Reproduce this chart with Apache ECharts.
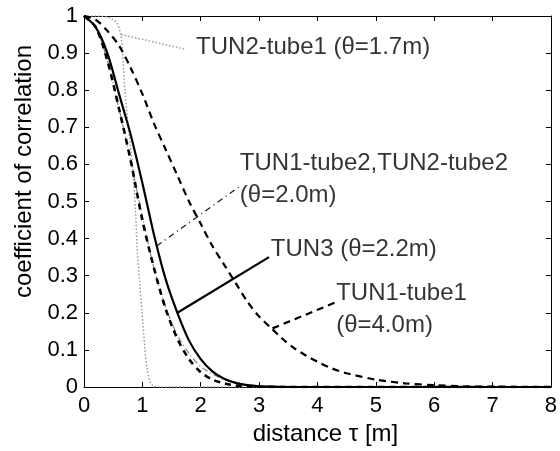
<!DOCTYPE html>
<html><head><meta charset="utf-8">
<script src="https://cdn.jsdelivr.net/npm/echarts/dist/echarts.min.js"></script>
<style>html,body{margin:0;padding:0;background:#fff}#c{width:560px;height:451px}</style>
</head><body><div id="c"></div>
<script>
// ---- data ----
const xTickLabels = ['0','1','2','3','4','5','6','7','8'];
const yTickLabels = ['0','0.1','0.2','0.3','0.4','0.5','0.6','0.7','0.8','0.9','1'];

// TUN2-tube1 (theta = 1.7 m), gray dotted
const tun2t1Tau = [0,0.2,0.4,0.5,0.57,0.63,0.66,0.70,0.76,0.83,0.88,0.91,0.95,0.99,1.04,1.08,1.12,1.18,1.3,2,8];
const tun2t1Rho = [1,1,0.997,0.99,0.98,0.95,0.90,0.80,0.70,0.60,0.48,0.38,0.29,0.21,0.11,0.05,0.02,0.003,0,0,0];

// TUN2-tube2 (theta = 2.0 m), gray dash-dot
const tun2t2Tau = [0,0.2,0.4,0.6,0.8,1.0,1.2,1.4,1.6,1.8,2.0,2.2,2.4,2.6,2.8,3.0,3.4,4,8];
const tun2t2Rho = [1,0.97,0.88,0.75,0.61,0.46,0.32,0.215,0.14,0.09,0.055,0.035,0.02,0.012,0.006,0.003,0.001,0,0];

// TUN1-tube2 (theta = 2.0 m), bold dashed
const tun1t2Tau = [0,0.2,0.4,0.6,0.8,1.0,1.2,1.4,1.6,1.8,2.0,2.2,2.4,2.6,2.8,3.0,3.4,8];
const tun1t2Rho = [1,0.97,0.88,0.75,0.61,0.45,0.32,0.21,0.13,0.075,0.04,0.02,0.01,0.004,0.002,0.001,0,0];

// TUN3 (theta = 2.2 m), solid
const tun3Tau = [0,0.2,0.4,0.6,0.8,1.0,1.2,1.4,1.6,1.8,2.0,2.2,2.4,2.6,2.8,3.0,3.2,3.6,8];
const tun3Rho = [1,0.97,0.90,0.79,0.68,0.55,0.41,0.29,0.20,0.125,0.075,0.042,0.022,0.011,0.005,0.002,0.001,0,0];

// TUN1-tube1 (theta = 4.0 m), dashed
const tun1t1Tau = [0,0.2,0.4,0.6,0.8,1.0,1.2,1.4,1.6,1.8,2.0,2.2,2.4,2.6,2.8,3.0,3.2,3.4,3.6,3.8,4.0,4.25,4.5,5.0,5.5,6.0,6.5,7.0,7.5,8];
const tun1t1Rho = [1,0.99,0.96,0.92,0.86,0.79,0.71,0.64,0.57,0.50,0.44,0.38,0.33,0.28,0.23,0.19,0.16,0.13,0.105,0.085,0.068,0.05,0.037,0.02,0.01,0.005,0.002,0.001,0,0];

// annotation leader lines (from curve to label), in data units
const ptrTun2t1 = [[0.64,0.95],[1.75,0.91]];
const ptrTun1t2 = [[1.245,0.38],[2.66,0.54]];
const ptrTun3   = [[1.60,0.20],[3.17,0.35]];
const ptrTun1t1 = [[3.23,0.158],[4.34,0.23]];

// annotation texts and their anchors (left, vertical middle), data units
const labelTexts = ['TUN2-tube1 (θ=1.7m)','TUN1-tube2,TUN2-tube2\n(θ=2.0m)','TUN3 (θ=2.2m)','TUN1-tube1\n(θ=4.0m)'];
const labelTau = [1.92, 2.67, 3.20, 4.32];
const labelRho = [0.915, 0.559, 0.37, 0.209];

// ---- build chart ----
const zip = (a,b) => a.map((v,i)=>[v,b[i]]);
const FONT = 'Liberation Sans, Arial, Helvetica, sans-serif';
const chart = echarts.init(document.getElementById('c'), null, {renderer:'canvas'});

function lineSeries(data, color, width, type, z) {
  return {type:'line', data, showSymbol:false, symbol:'none', smooth:0.3,
    lineStyle:{color, width, type}, z, silent:true, animation:false, clip:true};
}
function ptrSeries(data, color, width, type, z) {
  return {type:'line', data, showSymbol:false, symbol:'none', smooth:false,
    lineStyle:{color, width, type}, z, silent:true, animation:false};
}

const baseX = {type:'value', min:0, max:8, interval:1};
const baseY = {type:'value', min:0, max:1, interval:0.1};
const axLine = {show:true, onZero:false, lineStyle:{color:'#000', width:1}};
const axTick = {show:true, inside:true, length:5, lineStyle:{color:'#000', width:1}};

chart.setOption({
  backgroundColor:'#fff',
  animation:false,
  grid:{left:84, right:6, top:16, bottom:64, containLabel:false},
  xAxis:[
    Object.assign({}, baseX, {position:'bottom', axisLine:axLine, axisTick:axTick, splitLine:{show:false},
      name:'distance τ [m]', nameLocation:'middle', nameGap:30,
      nameTextStyle:{fontFamily:FONT, fontSize:24, color:'#000', padding:[0,0,0,16]},
      axisLabel:{fontFamily:FONT, fontSize:22, color:'#000', margin:8,
        formatter:(v)=>xTickLabels[Math.round(v)]}}),
    Object.assign({}, baseX, {position:'top', axisLine:axLine, axisTick:axTick, splitLine:{show:false}, axisLabel:{show:false}})
  ],
  yAxis:[
    Object.assign({}, baseY, {position:'left', axisLine:axLine, axisTick:axTick, splitLine:{show:false},
      name:'coefficient of correlation', nameLocation:'middle', nameGap:46,
      nameTextStyle:{fontFamily:FONT, fontSize:24, color:'#000', padding:[0,0,0,60]},
      axisLabel:{fontFamily:FONT, fontSize:22, color:'#000', margin:6,
        formatter:(v)=>yTickLabels[Math.round(v*10)]}}),
    Object.assign({}, baseY, {position:'right', axisLine:axLine, axisTick:axTick, splitLine:{show:false}, axisLabel:{show:false}})
  ],
  series:[
    lineSeries(zip(tun2t1Tau,tun2t1Rho), '#9a9a9a', 1.5, [1.5,2], 1),
    lineSeries(zip(tun2t2Tau,tun2t2Rho), '#777', 1.1, [6,3,1,3], 2),
    lineSeries(zip(tun1t2Tau,tun1t2Rho), '#000', 2.6, [6,5], 3),
    lineSeries(zip(tun3Tau,tun3Rho), '#000', 2.2, 'solid', 4),
    lineSeries(zip(tun1t1Tau,tun1t1Rho), '#000', 2.2, [7,5], 3),
    ptrSeries(ptrTun2t1, '#9a9a9a', 1.5, [1.5,2], 1),
    ptrSeries(ptrTun1t2, '#222', 1.4, [6,4,1,4], 2),
    ptrSeries(ptrTun3, '#000', 2.2, 'solid', 4),
    ptrSeries(ptrTun1t1, '#000', 2.2, [7,5], 3),
    {type:'scatter', data: labelTau.map((t,i)=>[t,labelRho[i],labelTexts[i]]),
      symbolSize:0.1, itemStyle:{color:'transparent'}, silent:true, z:10,
      label:{show:true, position:'right', distance:0, formatter:(p)=>p.data[2],
        fontFamily:FONT, fontSize:24, lineHeight:32, color:'#000', align:'left', verticalAlign:'middle'}}
  ]
});
</script></body></html>
